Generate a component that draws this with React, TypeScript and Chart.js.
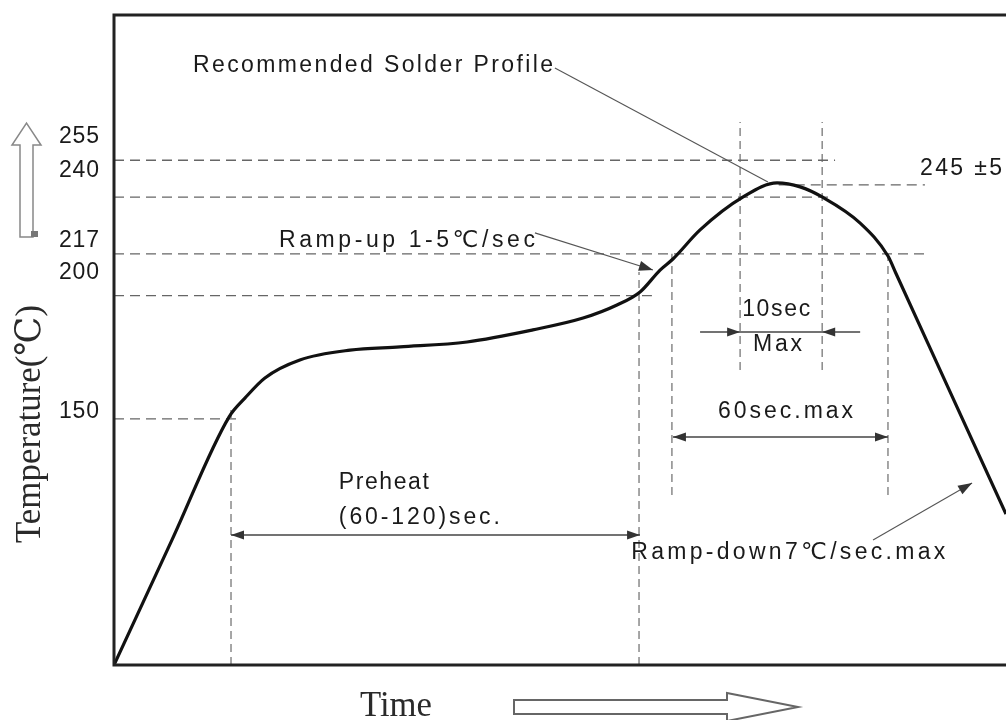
import { useEffect, useRef } from 'react';
import { Chart, registerables } from 'chart.js';

Chart.register(...registerables);

// ---- Axes ranges (time in s, temperature in °C) ----
const timeRange = [0, 263];
const tempRange = [50, 314];

// ---- Solder profile curve ----
const profileTime = [0, 17.1, 33.9, 38.6, 44.5, 54.8, 69.6, 84.3, 104.1, 123.5, 138.3, 148.3, 155.1, 161.0, 164.8, 172.8, 185.5, 195.5, 202.3, 208.8, 220.0, 228.2, 230.5, 245.6, 263.0, 270.1];
const profileTemp = [50, 100.8, 150.7, 158.4, 166.6, 173.9, 177.9, 179.2, 181.2, 186.1, 190.9, 196.2, 201.5, 210.4, 214.9, 226.7, 240.1, 245.8, 244.2, 240.1, 229.5, 216.1, 209.2, 163.7, 111.3, 90.2];

// ---- Horizontal guide lines (temperature, from time, to time) ----
const hGuideTemp = [255, 240, 245, 217, 200, 150];
const hGuideFrom = [0, 0, 196, 0, 0, 0];
const hGuideTo = [212.6, 211.7, 239.1, 239.1, 158.6, 37.2];

// ---- Vertical guide lines (time, low temp, high temp) ----
const vGuideTime = [34.5, 154.8, 164.5, 184.6, 208.8, 228.2];
const vGuideLow = [50, 50, 119, 169.8, 169.8, 119];
const vGuideHigh = [155, 209.6, 217, 270.5, 270.5, 217];

// ---- Y tick labels ----
const tickValues = [255, 240, 217, 200, 150];
const tickLabels = ['255', '240', '217', '200', '150'];

// ---- Double-headed span arrows (time from, time to, temperature) ----
const spanFrom = [34.5, 164.8];
const spanTo = [155.1, 228.2];
const spanTemp = [102.8, 142.6];

// ---- "10sec Max" arrow: line from/to, heads at ----
const tenSecLine = [172.8, 220.0];
const tenSecHeads = [184.6, 208.8];
const tenSecTemp = 185.25;

// ---- Leader lines (time0, temp0, time1, temp1, arrow?) ----
const leaderFromTime = [130.0, 124.1, 223.8];
const leaderFromTemp = [292.5, 225.5, 100.8];
const leaderToTime = [192.8, 158.9, 253.0];
const leaderToTemp = [246.2, 210.4, 123.9];
const leaderArrow = [false, true, true];

// ---- Annotation texts (anchor: left time, centre temperature) ----
const noteTexts = ['Recommended Solder Profile', 'Ramp-up 1-5℃/sec', '10sec', 'Max', '60sec.max', 'Ramp-down7℃/sec.max', 'Preheat', '(60-120)sec.', '245 ±5'];
const noteTime = [23.3, 48.65, 185.2, 188.4, 178.1, 152.5, 66.3, 66.3, 237.65];
const noteTemp = [294.1, 223.4, 195.4, 180.8, 153.6, 96.7, 125.1, 110.9, 252.3];

// ---- style (pixels) ----
const noteWidthPx = [360, 256, 68, 49, 135, 314, 90, 161, 82];
const tickLabelOffsetPx = [-26, -29, -15, -25, -9];

const SANS = '23px "Liberation Sans", "DejaVu Sans", sans-serif';
const SERIF = '35px "Liberation Serif", "DejaVu Serif", serif';

function fitText(ctx: CanvasRenderingContext2D, text: string, left: number, baseline: number, width: number) {
  (ctx as any).letterSpacing = '0px';
  const w = ctx.measureText(text).width;
  const n = Array.from(text).length;
  ctx.textAlign = 'left';
  ctx.textBaseline = 'alphabetic';
  if (w <= width && n > 1) {
    (ctx as any).letterSpacing = ((width - w) / (n - 1)).toFixed(2) + 'px';
    ctx.fillText(text, left, baseline);
    (ctx as any).letterSpacing = '0px';
  } else {
    ctx.save();
    ctx.translate(left, baseline);
    ctx.scale(width / w, 1);
    ctx.fillText(text, 0, 0);
    ctx.restore();
  }
}

function arrowHead(ctx: CanvasRenderingContext2D, tx: number, ty: number, fx: number, fy: number, len = 13, half = 4.5) {
  const a = Math.atan2(ty - fy, tx - fx);
  ctx.beginPath();
  ctx.moveTo(tx, ty);
  ctx.lineTo(tx - len * Math.cos(a) + half * Math.sin(a), ty - len * Math.sin(a) - half * Math.cos(a));
  ctx.lineTo(tx - len * Math.cos(a) - half * Math.sin(a), ty - len * Math.sin(a) + half * Math.cos(a));
  ctx.closePath();
  ctx.fill();
}

const annotationPlugin = {
  id: 'solderAnnotations',
  afterDatasetsDraw(chart: any) {
    const { ctx, chartArea } = chart;
    const xs = chart.scales.x;
    const ys = chart.scales.y;
    const px = (v: number) => xs.getPixelForValue(v);
    const py = (v: number) => ys.getPixelForValue(v);
    ctx.save();

    // frame
    ctx.strokeStyle = '#222';
    ctx.lineWidth = 3;
    ctx.beginPath();
    ctx.moveTo(chart.width + 10, chartArea.top);
    ctx.lineTo(chartArea.left, chartArea.top);
    ctx.lineTo(chartArea.left, chartArea.bottom);
    ctx.lineTo(chart.width + 10, chartArea.bottom);
    ctx.stroke();

    // span arrows
    ctx.strokeStyle = '#444';
    ctx.fillStyle = '#333';
    ctx.lineWidth = 1.3;
    for (let i = 0; i < spanFrom.length; i++) {
      const x0 = px(spanFrom[i]);
      const x1 = px(spanTo[i]);
      const yy = py(spanTemp[i]);
      ctx.beginPath();
      ctx.moveTo(x0, yy);
      ctx.lineTo(x1, yy);
      ctx.stroke();
      arrowHead(ctx, x0, yy, x1, yy);
      arrowHead(ctx, x1, yy, x0, yy);
    }

    // 10 sec arrow
    {
      const yy = py(tenSecTemp);
      ctx.beginPath();
      ctx.moveTo(px(tenSecLine[0]), yy);
      ctx.lineTo(px(tenSecLine[1]), yy);
      ctx.stroke();
      arrowHead(ctx, px(tenSecHeads[0]), yy, px(tenSecLine[0]), yy);
      arrowHead(ctx, px(tenSecHeads[1]), yy, px(tenSecLine[1]), yy);
    }

    // leader lines
    ctx.strokeStyle = '#555';
    ctx.lineWidth = 1.1;
    for (let i = 0; i < leaderFromTime.length; i++) {
      const x0 = px(leaderFromTime[i]);
      const y0 = py(leaderFromTemp[i]);
      const x1 = px(leaderToTime[i]);
      const y1 = py(leaderToTemp[i]);
      ctx.beginPath();
      ctx.moveTo(x0, y0);
      ctx.lineTo(x1, y1);
      ctx.stroke();
      if (leaderArrow[i]) arrowHead(ctx, x1, y1, x0, y0, 14, 5);
    }

    // annotation texts
    ctx.fillStyle = '#1a1a1a';
    ctx.font = SANS;
    for (let i = 0; i < noteTexts.length; i++) {
      fitText(ctx, noteTexts[i], px(noteTime[i]), py(noteTemp[i]) + 8.5, noteWidthPx[i]);
    }

    // y tick labels
    for (let i = 0; i < tickValues.length; i++) {
      const right = chartArea.left - 15;
      fitText(ctx, tickLabels[i], right - 40, py(tickValues[i]) + tickLabelOffsetPx[i] + 8.5, 40);
    }

    // axis titles
    ctx.font = SERIF;
    ctx.fillStyle = '#2a2a2a';
    ctx.save();
    ctx.translate(40, 424);
    ctx.rotate(-Math.PI / 2);
    fitText(ctx, 'Temperature(℃)', -119, 0, 238);
    ctx.restore();
    fitText(ctx, 'Time', 360, 716, 72);

    // hollow arrows
    ctx.strokeStyle = '#888';
    ctx.fillStyle = '#fff';
    ctx.lineWidth = 1.5;
    ctx.beginPath();
    ctx.moveTo(20, 237);
    ctx.lineTo(20, 145);
    ctx.lineTo(12, 145);
    ctx.lineTo(26.5, 123);
    ctx.lineTo(41, 145);
    ctx.lineTo(33, 145);
    ctx.lineTo(33, 237);
    ctx.closePath();
    ctx.fill();
    ctx.stroke();
    ctx.fillStyle = '#777';
    ctx.fillRect(31, 231, 7, 6);

    ctx.strokeStyle = '#666';
    ctx.fillStyle = '#fff';
    ctx.lineWidth = 2;
    ctx.beginPath();
    ctx.moveTo(514, 700);
    ctx.lineTo(727, 700);
    ctx.lineTo(727, 693);
    ctx.lineTo(798, 707);
    ctx.lineTo(727, 721);
    ctx.lineTo(727, 714);
    ctx.lineTo(514, 714);
    ctx.closePath();
    ctx.fill();
    ctx.stroke();

    ctx.restore();
  },
};

export default function App() {
  const canvasRef = useRef<HTMLCanvasElement | null>(null);

  useEffect(() => {
    if (!canvasRef.current) return;
    const datasets: any[] = [];
    datasets.push({
      label: 'profile',
      data: profileTime.map((t, i) => ({ x: t, y: profileTemp[i] })),
      borderColor: '#111',
      borderWidth: 3.2,
      pointRadius: 0,
      cubicInterpolationMode: 'monotone',
      fill: false,
    });
    hGuideTemp.forEach((temp, i) => {
      datasets.push({
        label: 'h' + temp,
        data: [
          { x: hGuideFrom[i], y: temp },
          { x: hGuideTo[i], y: temp },
        ],
        borderColor: '#666',
        borderWidth: 1.3,
        borderDash: [10, 6],
        pointRadius: 0,
        tension: 0,
        fill: false,
      });
    });
    vGuideTime.forEach((t, i) => {
      datasets.push({
        label: 'v' + i,
        data: [
          { x: t, y: vGuideLow[i] },
          { x: t, y: vGuideHigh[i] },
        ],
        borderColor: '#777',
        borderWidth: 1.3,
        borderDash: [8, 5],
        pointRadius: 0,
        tension: 0,
        fill: false,
      });
    });

    const chart = new Chart(canvasRef.current, {
      type: 'line',
      data: { datasets },
      options: {
        animation: false,
        responsive: false,
        maintainAspectRatio: false,
        parsing: false,
        layout: { padding: { left: 114, right: 0, top: 15, bottom: 55 } },
        plugins: { legend: { display: false }, tooltip: { enabled: false }, title: { display: false } },
        scales: {
          x: { type: 'linear', min: timeRange[0], max: timeRange[1], display: false },
          y: { type: 'linear', min: tempRange[0], max: tempRange[1], display: false },
        },
      },
      plugins: [annotationPlugin],
    } as any);
    return () => chart.destroy();
  }, []);

  return (
    <div style={{ position: 'absolute', left: 0, top: 0, width: 1006, height: 720, background: '#fff' }}>
      <canvas ref={canvasRef} width={1006} height={720} style={{ display: 'block' }} />
    </div>
  );
}
